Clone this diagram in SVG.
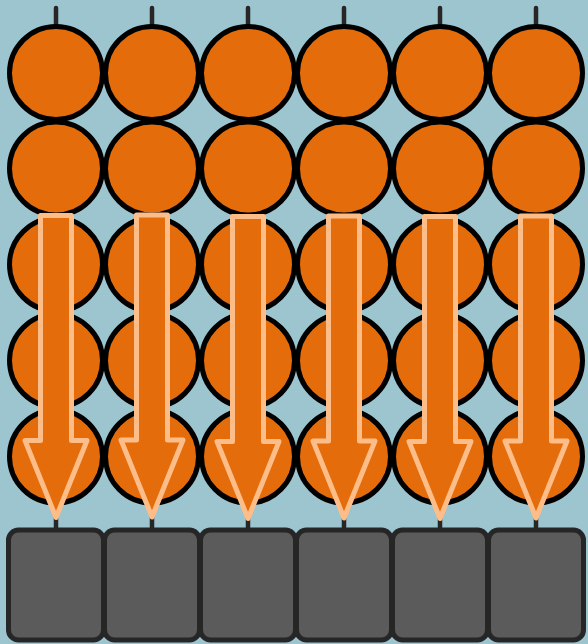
<svg xmlns="http://www.w3.org/2000/svg" width="588" height="644" viewBox="0 0 588 644">
<style>
.bg{fill:#9cc5d0}
.c{fill:#e46c0a;stroke:#000;stroke-width:5}
.tick{stroke:#262626;stroke-width:4.5;stroke-linecap:round;fill:none}
.ar{fill:#e46c0a;stroke:#fdbd89;stroke-width:5;stroke-linejoin:round}
.box{fill:#5b5b5b;stroke:#262626;stroke-width:5}
</style>
<defs>
<path id="arrow" d="M-15.5,0 L15.5,0 L15.5,225 L31,225 L0,302 L-31,225 L-15.5,225 Z"/>
</defs>
<rect class="bg" width="588" height="644"/>
<g id="connectors">
<line class="tick" x1="56" y1="8" x2="56" y2="26"/>
<line class="tick" x1="152" y1="8" x2="152" y2="26"/>
<line class="tick" x1="248" y1="8" x2="248" y2="26"/>
<line class="tick" x1="344" y1="8" x2="344" y2="26"/>
<line class="tick" x1="440" y1="8" x2="440" y2="26"/>
<line class="tick" x1="536" y1="8" x2="536" y2="26"/>
<line class="tick" x1="56" y1="515" x2="56" y2="528" style="stroke-linecap:butt"/>
<line class="tick" x1="152" y1="515" x2="152" y2="528" style="stroke-linecap:butt"/>
<line class="tick" x1="248" y1="515" x2="248" y2="528" style="stroke-linecap:butt"/>
<line class="tick" x1="344" y1="515" x2="344" y2="528" style="stroke-linecap:butt"/>
<line class="tick" x1="440" y1="515" x2="440" y2="528" style="stroke-linecap:butt"/>
<line class="tick" x1="536" y1="515" x2="536" y2="528" style="stroke-linecap:butt"/>
</g>
<g id="circles">
<g id="col1"><circle class="c" cx="56" cy="73" r="46.5"/><circle class="c" cx="56" cy="168.5" r="46.5"/><circle class="c" cx="56" cy="264.5" r="46.5"/><circle class="c" cx="56" cy="360.5" r="46.5"/><circle class="c" cx="56" cy="456.5" r="46.5"/></g>
<g id="col2"><circle class="c" cx="152" cy="73" r="46.5"/><circle class="c" cx="152" cy="168.5" r="46.5"/><circle class="c" cx="152" cy="264.5" r="46.5"/><circle class="c" cx="152" cy="360.5" r="46.5"/><circle class="c" cx="152" cy="456.5" r="46.5"/></g>
<g id="col3"><circle class="c" cx="248" cy="73" r="46.5"/><circle class="c" cx="248" cy="168.5" r="46.5"/><circle class="c" cx="248" cy="264.5" r="46.5"/><circle class="c" cx="248" cy="360.5" r="46.5"/><circle class="c" cx="248" cy="456.5" r="46.5"/></g>
<g id="col4"><circle class="c" cx="344" cy="73" r="46.5"/><circle class="c" cx="344" cy="168.5" r="46.5"/><circle class="c" cx="344" cy="264.5" r="46.5"/><circle class="c" cx="344" cy="360.5" r="46.5"/><circle class="c" cx="344" cy="456.5" r="46.5"/></g>
<g id="col5"><circle class="c" cx="440" cy="73" r="46.5"/><circle class="c" cx="440" cy="168.5" r="46.5"/><circle class="c" cx="440" cy="264.5" r="46.5"/><circle class="c" cx="440" cy="360.5" r="46.5"/><circle class="c" cx="440" cy="456.5" r="46.5"/></g>
<g id="col6"><circle class="c" cx="536" cy="73" r="46.5"/><circle class="c" cx="536" cy="168.5" r="46.5"/><circle class="c" cx="536" cy="264.5" r="46.5"/><circle class="c" cx="536" cy="360.5" r="46.5"/><circle class="c" cx="536" cy="456.5" r="46.5"/></g>
</g>
<g id="arrows">
<use href="#arrow" class="ar" transform="translate(56,215.5)"/>
<use href="#arrow" class="ar" transform="translate(152,215)"/>
<use href="#arrow" class="ar" transform="translate(248,216.5)"/>
<use href="#arrow" class="ar" transform="translate(344,216)"/>
<use href="#arrow" class="ar" transform="translate(440,216.5)"/>
<use href="#arrow" class="ar" transform="translate(536,216)"/>
</g>
<g id="boxes">
<rect id="box1" class="box" x="8.5" y="530" width="95" height="110" rx="10"/>
<rect id="box2" class="box" x="104.5" y="530" width="95" height="110" rx="10"/>
<rect id="box3" class="box" x="200.5" y="530" width="95" height="110" rx="10"/>
<rect id="box4" class="box" x="296.5" y="530" width="95" height="110" rx="10"/>
<rect id="box5" class="box" x="392.5" y="530" width="95" height="110" rx="10"/>
<rect id="box6" class="box" x="488.5" y="530" width="95" height="110" rx="10"/>
</g>
</svg>
